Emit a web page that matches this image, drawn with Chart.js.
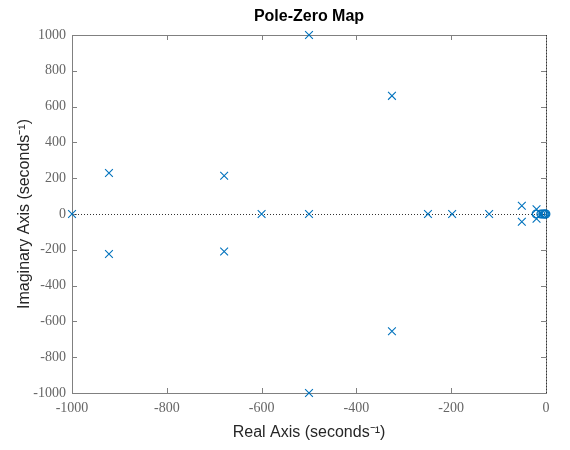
<!DOCTYPE html>
<html>
<head>
<meta charset="utf-8">
<script src="https://cdn.jsdelivr.net/npm/chart.js@4.4.0/dist/chart.umd.min.js"></script>
<style>
  body { margin: 0; background: #fff; }
  #wrap { width: 570px; height: 450px; }
</style>
</head>
<body>
<div id="wrap"><canvas id="pzChart"></canvas></div>
<script>
// poles, drawn as x markers
const poleReal = [-1000, -922, -922, -679, -679, -600, -500, -500, -500, -325, -325, -249, -198, -120, -51, -51, -20, -20];
const poleImag = [0, 229, -224, 214, -210, 0, 1000, 0, -1000, 660, -655, 0, 0, 0, 46, -43, 26, -26];
// zeros, drawn as circles
const zeroReal = [-21, -11, -7, -4, -2, 0];
const zeroImag = [0, 0, 0, 0, 0, 0];

const xTicks = [-1000, -800, -600, -400, -200, 0];
const yTicks = [-1000, -800, -600, -400, -200, 0, 200, 400, 600, 800, 1000];

const chartTitle = 'Pole-Zero Map';

const blue = '#0072BD';
const axisGrey = '#808080';

const toPoints = (re, im) => re.map((v, i) => ({ x: v, y: im[i] }));

// box, inward ticks and dotted zero lines (MATLAB style)
const pzFrame = {
  id: 'pzFrame',
  beforeDatasetsDraw(chart) {
    const { ctx, chartArea: a, scales } = chart;
    ctx.save();
    ctx.strokeStyle = axisGrey;
    ctx.lineWidth = 1;
    ctx.strokeRect(a.left + 0.5, a.top + 0.5, a.right - a.left, a.bottom - a.top);
    const tl = 5;
    ctx.beginPath();
    xTicks.forEach(v => {
      const px = Math.round(scales.x.getPixelForValue(v)) + 0.5;
      ctx.moveTo(px, a.bottom); ctx.lineTo(px, a.bottom - tl);
      ctx.moveTo(px, a.top); ctx.lineTo(px, a.top + tl);
    });
    yTicks.forEach(v => {
      const py = Math.round(scales.y.getPixelForValue(v)) + 0.5;
      ctx.moveTo(a.left, py); ctx.lineTo(a.left + tl, py);
      ctx.moveTo(a.right, py); ctx.lineTo(a.right - tl, py);
    });
    ctx.stroke();

    ctx.strokeStyle = '#333';
    ctx.setLineDash([1, 2]);
    ctx.beginPath();
    const y0 = Math.round(scales.y.getPixelForValue(0)) + 0.5;
    ctx.moveTo(a.left, y0); ctx.lineTo(a.right, y0);
    const x0 = Math.round(scales.x.getPixelForValue(0)) + 0.5;
    ctx.moveTo(x0, a.top); ctx.lineTo(x0, a.bottom);
    ctx.stroke();
    ctx.restore();
  },
  // title centred over the axes box, like MATLAB does
  afterDraw(chart) {
    const { ctx, chartArea: a } = chart;
    ctx.save();
    ctx.font = 'bold 16px "Liberation Sans", Arial, sans-serif';
    ctx.fillStyle = '#000';
    ctx.textAlign = 'center';
    ctx.textBaseline = 'alphabetic';
    ctx.fillText(chartTitle, (a.left + a.right) / 2, 21);
    ctx.restore();
  }
};

const tickFont = { family: 'Liberation Serif', size: 14 };
const titleFont = { family: 'Liberation Sans', size: 16 };

new Chart(document.getElementById('pzChart').getContext('2d'), {
  type: 'scatter',
  data: {
    datasets: [
      {
        label: 'Poles',
        data: toPoints(poleReal, poleImag),
        pointStyle: 'crossRot',
        pointRadius: 5.5,
        borderColor: blue,
        borderWidth: 1.1,
        clip: false,
      },
      {
        label: 'Zeros',
        data: toPoints(zeroReal, zeroImag),
        pointStyle: 'circle',
        pointRadius: 3.8,
        borderColor: blue,
        backgroundColor: 'rgba(0,0,0,0)',
        borderWidth: 1.3,
        clip: false,
      },
    ],
  },
  options: {
    responsive: true,
    maintainAspectRatio: false,
    animation: false,
    events: [],
    layout: { padding: { left: 0, right: 24, top: 35, bottom: 0 } },
    plugins: {
      legend: { display: false },
      tooltip: { enabled: false },
      title: { display: false },
    },
    scales: {
      x: {
        type: 'linear',
        min: xTicks[0],
        max: xTicks[xTicks.length - 1],
        afterBuildTicks: s => { s.ticks = xTicks.map(v => ({ value: v })); },
        afterFit: s => { s.height = 57; },
        grid: { display: false, drawTicks: false },
        border: { display: false },
        ticks: { color: '#666', font: tickFont, padding: 7, maxRotation: 0, callback: v => String(v) },
        title: {
          display: true,
          text: 'Real Axis (seconds\u207B\u00B9)',
          color: '#262626',
          font: titleFont,
          padding: { top: 0, bottom: 8 },
        },
      },
      y: {
        type: 'linear',
        min: yTicks[0],
        max: yTicks[yTicks.length - 1],
        afterBuildTicks: s => { s.ticks = yTicks.map(v => ({ value: v })); },
        afterFit: s => { s.width = 72; },
        grid: { display: false, drawTicks: false },
        border: { display: false },
        ticks: { color: '#666', font: tickFont, padding: 6, callback: v => String(v) },
        title: {
          display: true,
          text: 'Imaginary Axis (seconds\u207B\u00B9)',
          color: '#262626',
          font: titleFont,
          padding: { top: 15, bottom: 0 },
        },
      },
    },
  },
  plugins: [pzFrame],
});
</script>
</body>
</html>
